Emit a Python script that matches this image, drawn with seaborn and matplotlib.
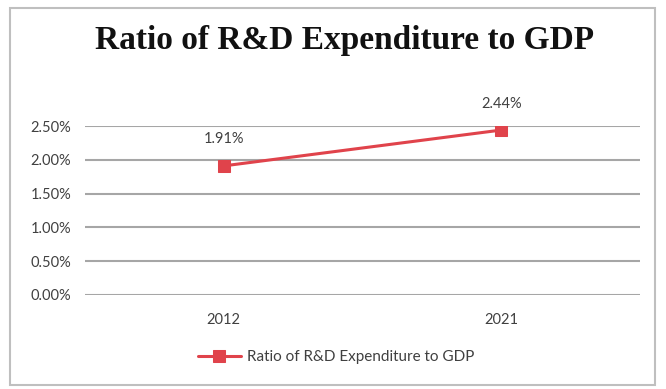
import matplotlib
matplotlib.use("Agg")
import matplotlib.pyplot as plt
from matplotlib.patches import Rectangle
from matplotlib.ticker import PercentFormatter
import seaborn as sns
import pandas as pd

years = ["2012", "2021"]
ratio = [0.0191, 0.0244]
series_name = "Ratio of R&D Expenditure to GDP"
y_ticks = [0.0, 0.005, 0.010, 0.015, 0.020, 0.025]

df = pd.DataFrame({"Year": years, "Ratio": ratio})

sns.set_theme(style="white")
plt.rcParams["font.family"] = ["Lato", "DejaVu Sans"]

RED = "#E0434B"
GRID = "#A6A6A6"
TEXT = "#404040"

fig = plt.figure(figsize=(6.66, 3.89), dpi=100)
fig.patch.set_facecolor("white")
fig.patches.append(Rectangle((10 / 666, 4 / 389), 645 / 666, 377 / 389,
                             transform=fig.transFigure, fill=False,
                             edgecolor="#BFBFBF", linewidth=1.5))

ax = fig.add_axes([85 / 666, (389 - 295) / 389, 555 / 666, 169 / 389])
sns.lineplot(data=df, x="Year", y="Ratio", ax=ax, color=RED, linewidth=2.2,
             marker="s", markersize=9, markeredgecolor=RED, label=series_name,
             sort=False)

ax.set_xlim(-0.5, 1.5)
ax.set_ylim(0, 0.025)
ax.set_yticks(y_ticks)
ax.yaxis.set_major_formatter(PercentFormatter(1.0, decimals=2))
ax.grid(axis="y", color=GRID, linewidth=1.5)
ax.set_axisbelow(True)
for s in ax.spines.values():
    s.set_visible(False)
ax.set_xlabel("")
ax.set_ylabel("")
ax.tick_params(axis="both", length=0, labelsize=10.5, labelcolor=TEXT)
ax.tick_params(axis="x", pad=13)
ax.tick_params(axis="y", pad=10)

for i, v in enumerate(ratio):
    ax.annotate(f"{v * 100:.2f}%", (i, v), xytext=(0, 19), textcoords="offset points",
                ha="center", va="center", fontsize=10.5, color=TEXT, annotation_clip=False)

fig.text(345 / 666, 1 - 41 / 389, "Ratio of R&D Expenditure to GDP",
         ha="center", va="center", fontsize=24, fontweight="bold",
         family=["Liberation Serif", "DejaVu Serif"], color="#111111")

leg = ax.legend(loc="center", bbox_to_anchor=(336 / 666, 1 - 357 / 389),
                bbox_transform=fig.transFigure, frameon=False, fontsize=11,
                handlelength=2.8, handletextpad=0.4)
for t in leg.get_texts():
    t.set_color(TEXT)

fig.savefig("out.png", dpi=100, facecolor="white")
